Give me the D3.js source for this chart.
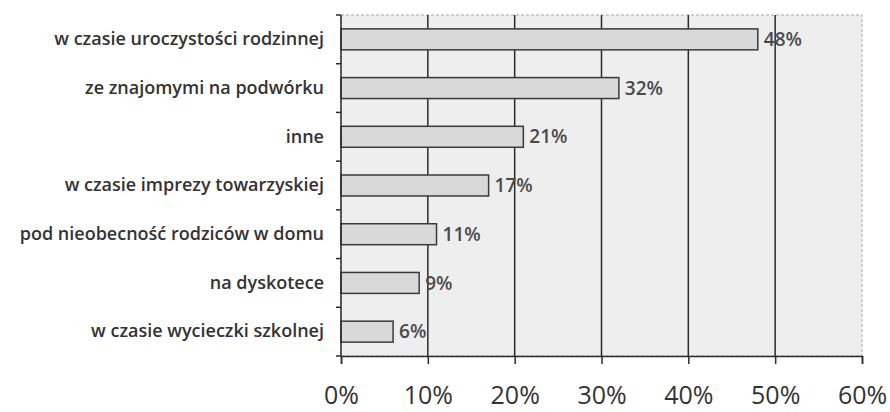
<!DOCTYPE html>
<html>
<head>
<meta charset="utf-8">
<script src="https://cdn.jsdelivr.net/npm/d3@7"></script>
<style>
  body { margin: 0; background: #fff; }
  svg { display: block; font-family: 'Open Sans', sans-serif; }
</style>
</head>
<body>
<div id="chart"></div>
<script>
var categories = [
  'w czasie uroczystości rodzinnej',
  'ze znajomymi na podwórku',
  'inne',
  'w czasie imprezy towarzyskiej',
  'pod nieobecność rodziców w domu',
  'na dyskotece',
  'w czasie wycieczki szkolnej'
];
var values = [48, 32, 21, 17, 11, 9, 6];
var xTicks = [0, 10, 20, 30, 40, 50, 60];

var width = 890, height = 412;
var margin = { top: 15, right: 28, bottom: 56, left: 341 };
var innerW = width - margin.left - margin.right;
var innerH = height - margin.top - margin.bottom;

var svg = d3.select('#chart').append('svg')
  .attr('width', width)
  .attr('height', height);

var x = d3.scaleLinear().domain([0, 60]).range([0, innerW]);
var y = d3.scaleBand().domain(categories).range([0, innerH])
  .paddingInner(0.57).paddingOuter(0.285);
var yTicks = d3.scaleBand().domain(categories).range([0, innerH]);

var g = svg.append('g')
  .attr('transform', 'translate(' + margin.left + ',' + margin.top + ')');

// tło obszaru wykresu
g.append('rect')
  .attr('width', innerW)
  .attr('height', innerH)
  .attr('fill', '#eeeeee')
  .attr('stroke', '#a8a8a8')
  .attr('stroke-dasharray', '3,2');

// linie siatki
g.selectAll('.grid')
  .data(xTicks.slice(1, -1))
  .enter().append('line')
  .attr('class', 'grid')
  .attr('x1', function (d) { return x(d); })
  .attr('x2', function (d) { return x(d); })
  .attr('y1', 0)
  .attr('y2', innerH)
  .attr('stroke', '#2b2b2b')
  .attr('stroke-width', 1.5);

// słupki
g.selectAll('.bar')
  .data(values)
  .enter().append('rect')
  .attr('class', 'bar')
  .attr('x', 0)
  .attr('y', function (d, i) { return y(categories[i]); })
  .attr('width', function (d) { return x(d); })
  .attr('height', y.bandwidth())
  .attr('fill', '#d9d9d9')
  .attr('stroke', '#3a3a3a')
  .attr('stroke-width', 1.5);

// etykiety wartości
g.selectAll('.val')
  .data(values)
  .enter().append('text')
  .attr('class', 'val')
  .attr('x', function (d) { return x(d) + 6; })
  .attr('y', function (d, i) { return y(categories[i]) + y.bandwidth() / 2; })
  .attr('dy', '0.35em')
  .attr('font-size', 19)
  .attr('font-weight', 600)
  .attr('fill', '#4a4a4a')
  .text(function (d) { return d + '%'; });

// oś Y
var yAxis = g.append('g')
  .call(d3.axisLeft(yTicks).tickSize(0).tickPadding(17));
yAxis.select('.domain').remove();
yAxis.selectAll('text')
  .attr('font-size', 18)
  .attr('font-weight', 600)
  .attr('fill', '#333')
  .attr('font-family', "'Open Sans', sans-serif");

// znaczniki osi Y (granice kategorii)
g.selectAll('.ytick')
  .data(categories.concat(['end']))
  .enter().append('line')
  .attr('class', 'ytick')
  .attr('x1', -5)
  .attr('x2', 0)
  .attr('y1', function (d, i) { return i * yTicks.step(); })
  .attr('y2', function (d, i) { return i * yTicks.step(); })
  .attr('stroke', '#2b2b2b')
  .attr('stroke-width', 1.5);

g.append('line')
  .attr('x1', 0).attr('x2', 0)
  .attr('y1', 0).attr('y2', innerH)
  .attr('stroke', '#2b2b2b')
  .attr('stroke-width', 1.5);

// oś X
var xAxis = g.append('g')
  .attr('transform', 'translate(0,' + innerH + ')')
  .call(d3.axisBottom(x).tickValues(xTicks).tickSize(8).tickPadding(22)
    .tickFormat(function (d) { return d + '%'; }));
xAxis.select('.domain')
  .attr('stroke', '#2b2b2b')
  .attr('stroke-width', 1.5);
xAxis.selectAll('line')
  .attr('stroke', '#2b2b2b')
  .attr('stroke-width', 1.5);
xAxis.selectAll('text')
  .attr('font-size', 25)
  .attr('fill', '#333')
  .attr('font-family', "'Open Sans', sans-serif");
</script>
</body>
</html>
